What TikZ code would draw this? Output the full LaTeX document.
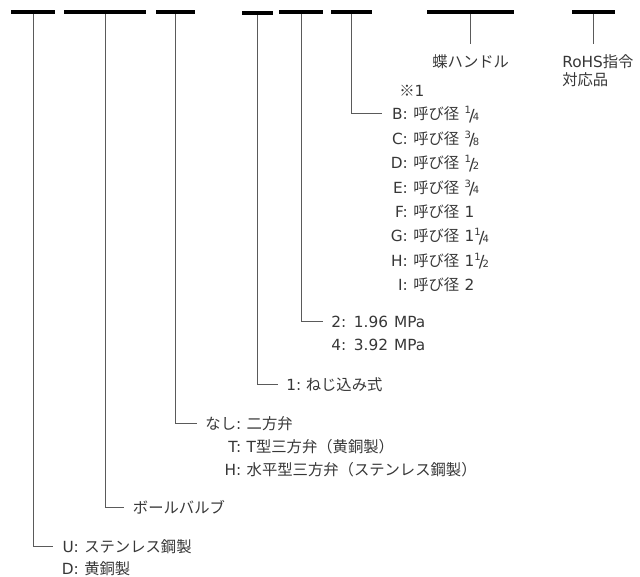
\documentclass[tikz,border=0pt]{standalone}
\usepackage{fontspec}
\setmainfont{Noto Sans CJK JP}
\newfontfamily\lat[WordSpace=1.25]{DejaVu Sans}
\definecolor{txt}{RGB}{55,55,55}
\definecolor{lin}{RGB}{90,90,90}
\newcommand\fr[2]{{\lat\raisebox{0.7ex}{\fontsize{7.5}{7.5}\selectfont #1}\kern-0.12em\raisebox{-0.2ex}{\fontsize{12.5}{12.5}\selectfont /}\kern-0.12em\raisebox{-0.1ex}{\fontsize{7.5}{7.5}\selectfont #2}}}
\newcommand\kv[3]{\makebox[#1][r]{#2{\lat :}}\hspace{0.35em}#3}
\begin{document}
\begin{tikzpicture}[x=0.75pt,y=-0.75pt,
  bar/.style={fill=black, draw=none, inner sep=0pt, minimum height=2.8pt},
  lbl/.style={anchor=west, inner ysep=0pt, inner xsep=6pt, text height=8.8pt, text depth=0pt, font=\fontsize{11.5}{14}\selectfont, text=txt},
  conn/.style={draw=lin, line width=0.75pt}]
\useasboundingbox (0,0) rectangle (640,577);
% bars
\node[bar, minimum width=32.8pt] (b1) at (33.2,12) {};
\node[bar, minimum width=61.5pt] (b2) at (105,12) {};
\node[bar, minimum width=29.25pt] (b3) at (175.2,12) {};
\node[bar, minimum width=23.25pt] (b4) at (257.2,12.7) {};
\node[bar, minimum width=32.5pt] (b5) at (301,12) {};
\node[bar, minimum width=30.5pt] (b6) at (351.3,12) {};
\node[bar, minimum width=65pt] (b7) at (470.7,12) {};
\node[bar, minimum width=32.5pt] (b8) at (593.3,12) {};
% top labels
\node[lbl, anchor=center, inner xsep=0pt] (cho) at (470.7,62) {蝶ハンドル};
\node[lbl, inner xsep=0pt] (r1) at (562,62) {{\lat RoHS}指令};
\node[lbl, inner xsep=0pt] (r2) at (562,80) {対応品};
\coordinate (e7) at (470.7,44);
\coordinate (e8) at (593.3,44);
\draw[conn] (b7.south) -- (e7);
\draw[conn] (b8.south) -- (e8);
% size list
\node[lbl, inner xsep=0pt] (note) at (399,91) {※{\lat 1}};
\node[lbl] (kB) at (382,114) {\kv{1.15em}{\lat B}{呼び径\hspace{0.35em}\fr14}};
\node[lbl] (kC) at (382,138.4) {\kv{1.15em}{\lat C}{呼び径\hspace{0.35em}\fr38}};
\node[lbl] (kD) at (382,162.8) {\kv{1.15em}{\lat D}{呼び径\hspace{0.35em}\fr12}};
\node[lbl] (kE) at (382,187.2) {\kv{1.15em}{\lat E}{呼び径\hspace{0.35em}\fr34}};
\node[lbl] (kF) at (382,211.6) {\kv{1.15em}{\lat F}{呼び径\hspace{0.35em}{\lat 1}}};
\node[lbl] (kG) at (382,236) {\kv{1.15em}{\lat G}{呼び径\hspace{0.35em}{\lat 1}\fr14}};
\node[lbl] (kH) at (382,260.4) {\kv{1.15em}{\lat H}{呼び径\hspace{0.35em}{\lat 1}\fr12}};
\node[lbl] (kI) at (382,284.8) {\kv{1.15em}{\lat I}{呼び径\hspace{0.35em}{\lat 2}}};
\draw[conn] (b6.south) |- (kB.west);
% pressure
\node[lbl] (p2) at (323,322) {{\lat 2: 1.96 MPa}};
\node[lbl] (p4) at (323,344.7) {{\lat 4: 3.92 MPa}};
\draw[conn] (b5.south) |- (p2.west);
% connection
\node[lbl] (c1) at (278,385) {{\lat 1:}\hspace{0.3em}ねじ込み式};
\draw[conn] (b4.south) |- (c1.west);
% type
\node[lbl] (tn) at (197,424) {\kv{2.35em}{なし}{二方弁}};
\node[lbl] (tt) at (197,447) {\kv{2.35em}{\lat T}{{\lat T}型三方弁（黄銅製）}};
\node[lbl] (th) at (197,470) {\kv{2.35em}{\lat H}{水平型三方弁（ステンレス鋼製）}};
\draw[conn] (b3.south) |- (tn.west);
% ball valve
\node[lbl, inner xsep=6.5pt] (bv) at (124,508) {ボールバルブ};
\draw[conn] (b2.south) |- (bv.west);
% material
\node[lbl] (mu) at (53,546.5) {\kv{1.15em}{\lat U}{ステンレス鋼製}};
\node[lbl] (md) at (53,568.5) {\kv{1.15em}{\lat D}{黄銅製}};
\draw[conn] (b1.south) |- (mu.west);
\end{tikzpicture}
\end{document}
